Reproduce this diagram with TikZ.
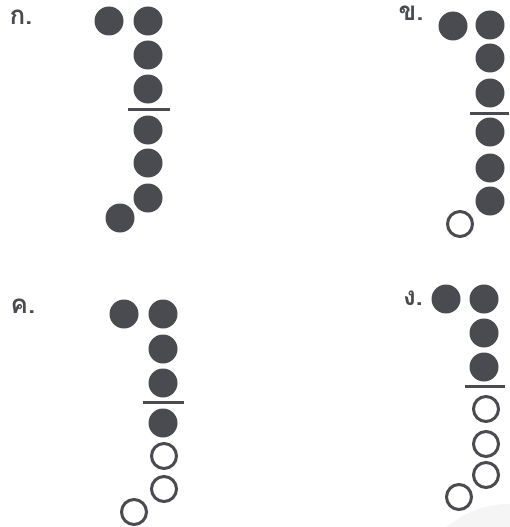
\documentclass[tikz,border=0pt]{standalone}
\usepackage{fontspec}
\newfontfamily\thaifont[Script=Thai]{Loma}
\definecolor{ink}{HTML}{4A4B50}
\definecolor{wm}{HTML}{F4F5F4}
\begin{document}
\begin{tikzpicture}[x=1pt,y=-1pt,
  full/.style={circle,fill=ink,minimum size=29pt,inner sep=0pt},
  hollow/.style={circle,draw=ink,line width=3pt,minimum size=25pt,inner sep=0pt},
  bar/.style={draw=ink,line width=3pt},
  lbl/.style={font=\thaifont\bfseries\fontsize{26}{26}\selectfont,text=ink,inner sep=0pt}]
\useasboundingbox (0,0) rectangle (509,527);
% faint watermark arc
\fill[wm] (509,600) circle (96);
% panel ka
\node[lbl] (la) at (21,17) {ก.};
\node[full] (a0) at (109,21) {};
\node[full] (a1) at (148,21) {};
\node[full] (a2) at (148,55) {};
\node[full] (a3) at (148,89) {};
\coordinate (aL) at (128,109); \coordinate (aR) at (170,109);
\draw[bar] (aL) -- (aR);
\node[full] (a4) at (148,130) {};
\node[full] (a5) at (148,163) {};
\node[full] (a6) at (148,198) {};
\node[full] (a7) at (120,218) {};
% panel kho
\node[lbl] (lb) at (411,13) {ข.};
\node[full] (b0) at (453,26) {};
\node[full] (b1) at (490,25) {};
\node[full] (b2) at (490,58) {};
\node[full] (b3) at (490,93) {};
\coordinate (bL) at (470,113); \coordinate (bR) at (509,113);
\draw[bar] (bL) -- (bR);
\node[full] (b4) at (490,132) {};
\node[full] (b5) at (490,168) {};
\node[full] (b6) at (490,201) {};
\node[hollow] (b7) at (460,224) {};
% panel kho khwai
\node[lbl] (lc) at (23,306) {ค.};
\node[full] (c0) at (124,314) {};
\node[full] (c1) at (163,314) {};
\node[full] (c2) at (163,349) {};
\node[full] (c3) at (163,383) {};
\coordinate (cL) at (143,402); \coordinate (cR) at (184,402);
\draw[bar] (cL) -- (cR);
\node[full] (c4) at (163,423) {};
\node[hollow] (c5) at (164,456) {};
\node[hollow] (c6) at (164,489) {};
\node[hollow] (c7) at (134,512) {};
% panel ngo
\node[lbl] (ld) at (413,298) {ง.};
\node[full] (d0) at (446,299) {};
\node[full] (d1) at (484,299) {};
\node[full] (d2) at (484,333) {};
\node[full] (d3) at (484,367) {};
\coordinate (dL) at (465,386); \coordinate (dR) at (505,386);
\draw[bar] (dL) -- (dR);
\node[hollow] (d4) at (486,409) {};
\node[hollow] (d5) at (486,444) {};
\node[hollow] (d6) at (486,475) {};
\node[hollow] (d7) at (459,497) {};
\end{tikzpicture}
\end{document}
